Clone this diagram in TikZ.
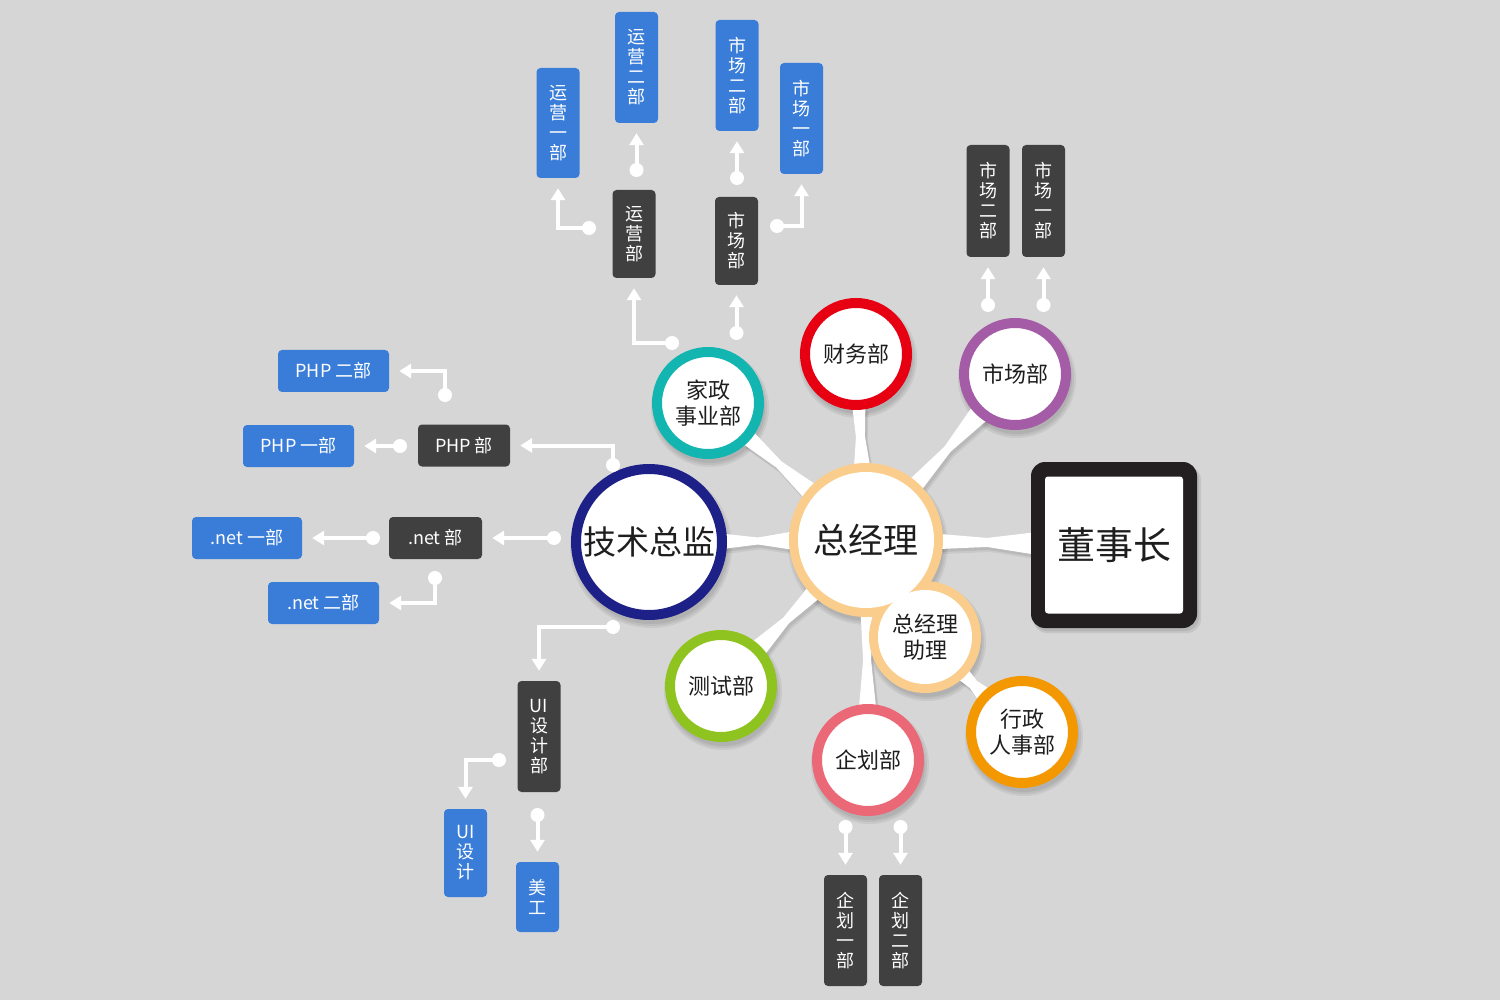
\documentclass[tikz,border=0pt]{standalone}
\usepackage{fontspec}
\setmainfont{Noto Sans CJK SC}
\usetikzlibrary{calc,arrows.meta}
\definecolor{bgc}{RGB}{214,214,214}
\definecolor{navyc}{RGB}{29,32,135}
\definecolor{tealc}{RGB}{19,181,177}
\definecolor{redc}{RGB}{230,0,18}
\definecolor{purplec}{RGB}{165,92,166}
\definecolor{greenc}{RGB}{143,195,31}
\definecolor{pinkc}{RGB}{235,104,119}
\definecolor{orangec}{RGB}{243,152,0}
\definecolor{peachc}{RGB}{250,205,140}
\definecolor{framec}{RGB}{35,31,32}
\definecolor{darkbox}{RGB}{64,64,64}
\definecolor{bluebox}{RGB}{58,125,216}
\definecolor{txtc}{RGB}{30,30,30}
\newcommand{\bowspoke}[7]{%
  \path ($(#1)!#3!(#2)$) coordinate (sa) ($(#2)!#4!(#1)$) coordinate (sb)
        ($(sa)!0.5!(sb)$) coordinate (sm);
  \foreach \sx/\sy/\so in {3/-5/.06,2/-3/.08}{%
  \fill[black,opacity=\so,transform canvas={xshift=\sx pt,yshift=\sy pt}]
     ($(sa)!#5!90:(sb)$) -- ($(sm)!#6!90:(sb)$) -- ($(sb)!#7!-90:(sa)$)
     -- ($(sb)!#7!90:(sa)$) -- ($(sm)!#6!-90:(sb)$) -- ($(sa)!#5!-90:(sb)$) -- cycle;}
  \fill[white] ($(sa)!#5!90:(sb)$) -- ($(sm)!#6!90:(sb)$) -- ($(sb)!#7!-90:(sa)$)
     -- ($(sb)!#7!90:(sa)$) -- ($(sm)!#6!-90:(sb)$) -- ($(sa)!#5!-90:(sb)$) -- cycle;}
\newcommand{\softshd}[2]{%
  \foreach \dd in {3,1,-1}{\fill[black,opacity=.06] ($(#1)+(2,5)$) circle [radius=#2+\dd];}}
\begin{document}
\begin{tikzpicture}[x=1pt,y=-1pt,
  ring/.style={circle, draw=#1, line width=10pt, fill=white, inner sep=0pt, text=txtc, align=center},
  sat/.style={ring=#1, minimum size=102pt, font=\fontsize{22}{26}\selectfont},
  vbox/.style={rounded corners=4pt, minimum width=43pt, inner sep=0pt, text=white, align=center,
    font=\fontsize{18}{20}\selectfont},
  hbox/.style={rounded corners=4pt, minimum height=42pt, inner sep=0pt, text=white,
    font=\fontsize{18}{22}\selectfont},
  dk/.style={fill=darkbox}, bl/.style={fill=bluebox},
  conn/.style={draw=white, line width=4pt, shorten >=10pt, -{Triangle[width=14pt,length=12pt]}},
  dotn/.style={circle, fill=white, minimum size=14pt, inner sep=0pt}]
\fill[bgc] (0,0) rectangle (1500,1000);
\useasboundingbox (0,0) rectangle (1500,1000);
% positions
\coordinate (Pzjl) at (866,540);
\coordinate (Pzl) at (925,637);
\coordinate (Pjs) at (649,542);
\coordinate (Pjz) at (708,403);
\coordinate (Pcw) at (856,354);
\coordinate (Psc) at (1015,374);
\coordinate (Pcs) at (721,686);
\coordinate (Pqh) at (868,760);
\coordinate (Pxz) at (1022,732);
\coordinate (Pdsz) at (1114,545);
% shadows
\softshd{Pzjl}{77}
\softshd{Pzl}{56}
\softshd{Pjs}{78}
\softshd{Pjz}{56}
\softshd{Pcw}{56}
\softshd{Psc}{56}
\softshd{Pcs}{56}
\softshd{Pqh}{56}
\softshd{Pxz}{56}
\fill[black,opacity=.08,rounded corners=14pt] (1033,466) rectangle (1201,633);
\fill[black,opacity=.08,rounded corners=14pt] (1033,465) rectangle (1199,631);
% spokes
\bowspoke{Pzjl}{Pdsz}{74pt}{80pt}{7.5pt}{4.5pt}{11pt}
\bowspoke{Pzjl}{Pjs}{74pt}{75pt}{9pt}{3.5pt}{7.5pt}
\bowspoke{Pzjl}{Pjz}{74pt}{53pt}{9pt}{4pt}{8pt}
\bowspoke{Pzjl}{Pcw}{74pt}{53pt}{8pt}{4.5pt}{6.5pt}
\bowspoke{Pzjl}{Psc}{74pt}{53pt}{8pt}{4pt}{10pt}
\bowspoke{Pzjl}{Pcs}{74pt}{53pt}{8pt}{4pt}{9pt}
\bowspoke{Pzjl}{Pqh}{74pt}{53pt}{6pt}{4pt}{8.5pt}
\bowspoke{Pzl}{Pxz}{53pt}{53pt}{7pt}{5pt}{8pt}
% general manager + assistant (merged)
\node[circle, fill=peachc, minimum size=154pt, inner sep=0pt] (zjlo) at (Pzjl) {};
\node[circle, fill=peachc, minimum size=112pt, inner sep=0pt] (zlo) at (Pzl) {};
\node[circle, fill=white, minimum size=136pt, inner sep=0pt, text=txtc,
  font=\fontsize{35}{40}\selectfont] (zjl) at (Pzjl) {总经理};
\node[circle, fill=white, minimum size=94pt, inner sep=0pt, text=txtc, align=center,
  font=\fontsize{22}{26}\selectfont] (zl) at (Pzl) {总经理\\助理};
% satellites
\node[ring=navyc, minimum size=146pt, font=\fontsize{33}{38}\selectfont] (js) at (Pjs) {技术总监};
\node[sat=tealc] (jz) at (Pjz) {家政\\事业部};
\node[sat=redc] (cw) at (Pcw) {财务部};
\node[sat=purplec] (sc) at (Psc) {市场部};
\node[sat=greenc] (cs) at (Pcs) {测试部};
\node[sat=pinkc] (qh) at (Pqh) {企划部};
\node[sat=orangec] (xz) at (Pxz) {行政\\人事部};
% chairman
\node[fill=framec, rounded corners=14pt, minimum width=166pt, minimum height=166pt] (dszo) at (Pdsz) {};
\node[fill=white, rounded corners=3pt, minimum width=138pt, minimum height=137pt, inner sep=0pt,
  text=txtc, font=\fontsize{38}{42}\selectfont] (dsz) at (Pdsz) {董事长};
% boxes top
\node[vbox, bl, minimum height=110pt] (yy1) at (558,123) {运\\营\\一\\部};
\node[vbox, bl, minimum height=111pt] (yy2) at (636.5,67.5) {运\\营\\二\\部};
\node[vbox, bl, minimum height=111pt] (sc2) at (737,75.5) {市\\场\\二\\部};
\node[vbox, bl, minimum height=111pt] (sc1) at (801.5,118.5) {市\\场\\一\\部};
\node[vbox, dk, minimum height=88pt] (yyb) at (634,234) {运\\营\\部};
\node[vbox, dk, minimum height=88pt] (scb) at (736.5,241) {市\\场\\部};
% boxes right
\node[vbox, dk, minimum height=112pt] (rsc2) at (988,201) {市\\场\\二\\部};
\node[vbox, dk, minimum height=112pt] (rsc1) at (1043.5,201) {市\\场\\一\\部};
% boxes left
\node[hbox, bl, minimum width=111pt] (php2) at (333.5,371) {PHP 二部};
\node[hbox, bl, minimum width=111pt] (php1) at (298.5,446) {PHP 一部};
\node[hbox, dk, minimum width=92pt] (phpb) at (464,445.5) {PHP 部};
\node[hbox, dk, minimum width=93pt] (netb) at (435.5,538) {.net 部};
\node[hbox, bl, minimum width=110pt] (net1) at (247,538) {.net 一部};
\node[hbox, bl, minimum width=111pt] (net2) at (323.5,603) {.net 二部};
% boxes bottom left
\node[vbox, dk, minimum height=111pt] (uib) at (539,736.5) {UI\\设\\计\\部};
\node[vbox, bl, minimum height=88pt] (uid) at (465.5,853) {UI\\设\\计};
\node[vbox, bl, minimum height=70pt] (mg) at (537.5,897) {美\\工};
% boxes bottom
\node[vbox, dk, minimum height=111pt] (qh1) at (845.5,930.5) {企\\划\\一\\部};
\node[vbox, dk, minimum height=111pt] (qh2) at (900.5,930.5) {企\\划\\二\\部};
% dots
\node[dotn] (dyy1) at (589,228) {};
\node[dotn] (dyy2) at (636.5,170) {};
\node[dotn] (dsc2) at (737,178) {};
\node[dotn] (dsc1) at (777,226) {};
\node[dotn] (dyyb) at (672,343) {};
\node[dotn] (dscb) at (736.5,333) {};
\node[dotn] (dr2) at (988,305) {};
\node[dotn] (dr1) at (1043.5,305) {};
\node[dotn] (dphp2) at (445,395) {};
\node[dotn] (dphp1) at (400,446) {};
\node[dotn] (dphpb) at (613,465) {};
\node[dotn] (dnetb) at (554,538) {};
\node[dotn] (dnet1) at (373,538) {};
\node[dotn] (dnet2) at (435,578) {};
\node[dotn] (duib) at (613,627) {};
\node[dotn] (duid) at (499,760) {};
\node[dotn] (dmg) at (537.5,815) {};
\node[dotn] (dqh1) at (845.5,827) {};
\node[dotn] (dqh2) at (900.5,827) {};
% connectors
\draw[conn] (dyy1.center) -| (yy1.south);
\draw[conn] (dyy2.center) -- (yy2.south);
\draw[conn] (dsc2.center) -- (sc2.south);
\draw[conn] (dsc1.center) -| (sc1.south);
\draw[conn] (dyyb.center) -| (yyb.south);
\draw[conn] (dscb.center) -- (scb.south);
\draw[conn] (dr2.center) -- (rsc2.south);
\draw[conn] (dr1.center) -- (rsc1.south);
\draw[conn] (dphp2.center) |- (php2.east);
\draw[conn] (dphp1.center) -- (php1.east);
\draw[conn] (dphpb.center) |- (phpb.east);
\draw[conn] (dnetb.center) -- (netb.east);
\draw[conn] (dnet1.center) -- (net1.east);
\draw[conn] (dnet2.center) |- (net2.east);
\draw[conn] (duib.center) -| (uib.north);
\draw[conn] (duid.center) -| (uid.north);
\draw[conn] (dmg.center) -- (mg.north);
\draw[conn] (dqh1.center) -- (qh1.north);
\draw[conn] (dqh2.center) -- (qh2.north);
\end{tikzpicture}
\end{document}
